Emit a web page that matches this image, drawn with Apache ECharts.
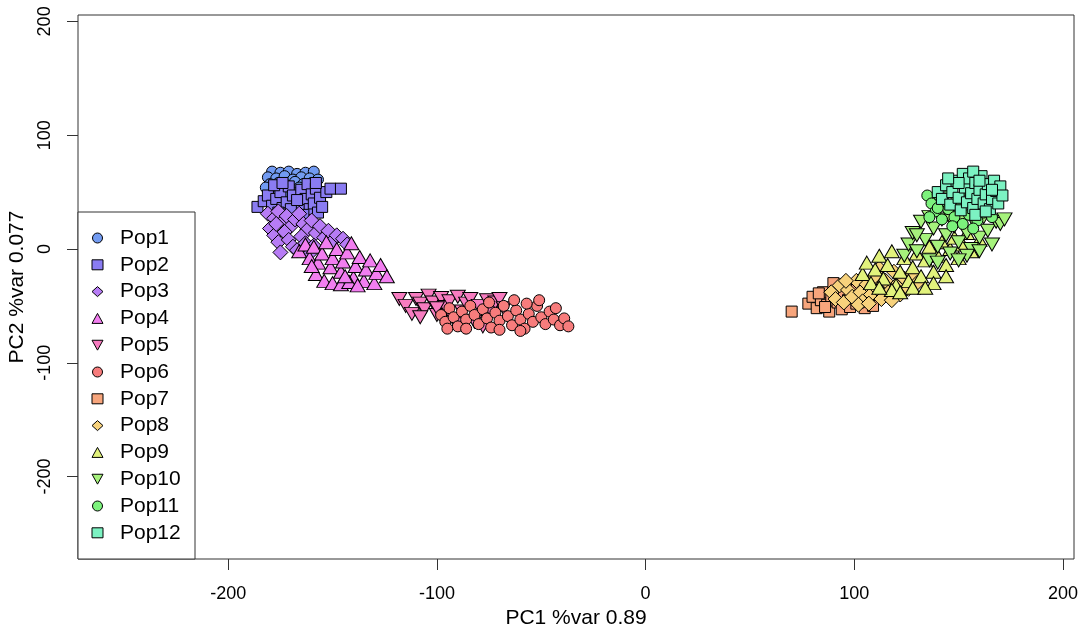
<!DOCTYPE html>
<html>
<head>
<meta charset="utf-8">
<script src="https://cdn.jsdelivr.net/npm/echarts@6/dist/echarts.min.js"></script>
<style>html,body{margin:0;padding:0;background:#fff}#c{width:1081px;height:630px}</style>
</head>
<body>
<div id="c"></div>
<script>
const popNames = ['Pop1','Pop2','Pop3','Pop4','Pop5','Pop6','Pop7','Pop8','Pop9','Pop10','Pop11','Pop12'];
const popColors = ['#729bf2','#8a7cf2','#b77cf5','#f27ef0','#f77cc0','#f77c7c','#f7a57c','#f7d27c','#e2f27c','#a6f27c','#7cf27c','#7cf2c2'];
const xTicks = [-200,-100,0,100,200];
const yTicks = [-200,-100,0,100,200];
const xName = 'PC1 %var 0.89';
const yName = 'PC2 %var 0.077';

const pop1 = [[-179,68],[-175,67],[-171,68],[-167,66],[-163,67],[-159,68],[-181,63],[-177,62],[-173,64],[-169,61],[-165,63],[-161,62],[-157,61],[-180,57],[-176,58],[-172,56],[-168,59],[-164,57],[-160,58],[-178,52],[-174,53],[-170,51],[-166,54],[-162,52],[-158,55],[-176,48],[-172,47],[-168,49],[-165,46],[-182,54]];
const pop2 = [[-186,37],[-183,42],[-181,47],[-179,38],[-177,44],[-175,50],[-174,36],[-172,41],[-171,55],[-169,47],[-168,33],[-166,38],[-165,52],[-163,44],[-162,57],[-161,35],[-160,48],[-159,40],[-158,53],[-157,32],[-156,45],[-155,37],[-153,50],[-151,53],[-146,53],[-178,56],[-174,58],[-170,35],[-167,43],[-164,30],[-176,32],[-158,58]];
const pop3 = [[-181,31],[-178,27],[-176,33],[-174,24],[-172,29],[-170,20],[-168,26],[-166,31],[-164,22],[-162,17],[-160,25],[-158,14],[-156,20],[-154,10],[-152,16],[-150,7],[-148,12],[-145,9],[-143,4],[-180,18],[-178,12],[-176,6],[-175,-3],[-173,15],[-171,8],[-169,2],[-167,-1],[-165,11],[-163,5],[-161,-4],[-159,3],[-177,22]];
const pop4 = [[-166,-2],[-163,4],[-161,-8],[-159,2],[-157,-12],[-155,-4],[-153,6],[-151,-16],[-150,-8],[-148,0],[-146,-20],[-145,-11],[-143,-3],[-141,5],[-140,-25],[-139,-15],[-137,-7],[-135,-28],[-134,-18],[-132,-10],[-130,-30],[-129,-21],[-127,-14],[-124,-24],[-158,-22],[-154,-28],[-150,-30],[-146,-31],[-142,-29],[-138,-32],[-160,-15],[-144,-24]];
const pop5 = [[-118,-44],[-115,-50],[-112,-57],[-110,-44],[-108,-48],[-106,-53],[-104,-41],[-102,-47],[-100,-58],[-98,-43],[-96,-51],[-94,-46],[-92,-62],[-90,-42],[-88,-55],[-86,-48],[-84,-44],[-82,-64],[-80,-50],[-78,-68],[-76,-45],[-74,-55],[-72,-47],[-70,-44],[-68,-52],[-108,-60],[-100,-52],[-90,-66]];
const pop6 = [[-98,-58],[-96,-64],[-94,-52],[-92,-60],[-90,-68],[-88,-55],[-86,-62],[-84,-50],[-82,-58],[-80,-66],[-78,-53],[-76,-61],[-74,-69],[-72,-56],[-70,-63],[-68,-50],[-66,-59],[-64,-67],[-62,-54],[-60,-62],[-58,-70],[-56,-57],[-54,-64],[-52,-50],[-50,-60],[-51,-45],[-48,-66],[-46,-55],[-44,-62],[-43,-52],[-41,-67],[-39,-61],[-37,-68],[-57,-48],[-63,-45],[-75,-47],[-86,-70],[-70,-71],[-60,-72],[-95,-70]];
const pop7 = [[70,-55],[78,-48],[80,-42],[82,-52],[84,-45],[85,-38],[87,-49],[88,-55],[89,-42],[91,-35],[92,-47],[94,-53],[95,-40],[97,-45],[98,-51],[100,-36],[101,-48],[103,-42],[105,-52],[107,-46],[90,-30],[86,-51],[96,-32],[83,-39],[109,-50]];
const pop8 = [[89,-38],[91,-44],[93,-32],[95,-47],[97,-36],[99,-42],[101,-28],[103,-38],[104,-46],[106,-31],[108,-40],[110,-24],[111,-35],[113,-44],[115,-28],[117,-37],[119,-20],[120,-32],[122,-40],[124,-26],[126,-35],[128,-22],[96,-28],[102,-49],[112,-17],[118,-45],[107,-48],[130,-30]];
const pop9 = [[104,-22],[106,-12],[108,-30],[110,-18],[112,-6],[114,-26],[116,-14],[118,-2],[120,-32],[122,-20],[124,-8],[126,-28],[128,-16],[130,-4],[132,-24],[134,-10],[136,2],[138,-20],[140,-6],[142,6],[144,-14],[146,0],[148,10],[150,-8],[152,4],[154,14],[118,-36],[128,-34],[138,-30],[112,-34],[122,-38],[134,-34],[144,-24],[156,-2],[160,8]];
const pop10 = [[124,-6],[126,4],[128,14],[130,-2],[132,24],[134,8],[136,-10],[138,18],[140,2],[142,26],[144,12],[146,-4],[148,20],[150,6],[152,27],[154,14],[156,0],[158,22],[160,10],[162,28],[164,16],[166,4],[168,24],[170,22],[146,28],[136,28],[154,-6],[140,-12],[160,-2],[130,12],[150,-10],[172,26]];
const pop11 = [[135,47],[137,40],[139,33],[140,48],[142,26],[143,42],[145,35],[146,50],[148,28],[149,44],[151,37],[152,22],[153,52],[155,30],[156,45],[158,38],[159,25],[161,50],[162,32],[164,42],[166,28],[140,36],[147,20],[157,18],[136,28]];
const pop12 = [[140,50],[142,44],[144,56],[146,39],[147,50],[149,60],[150,45],[151,34],[152,66],[153,54],[154,41],[155,62],[156,49],[157,36],[158,58],[159,44],[160,52],[161,64],[162,40],[163,48],[164,57],[165,35],[166,44],[167,60],[168,51],[169,40],[170,55],[171,47],[150,58],[145,62],[158,30],[163,33],[157,68],[160,60],[166,52]];

const popData = [pop1,pop2,pop3,pop4,pop5,pop6,pop7,pop8,pop9,pop10,pop11,pop12];

const DOWN_TRI = 'path://M0,0L10,0L5,9Z';
// R pch 21..25 cycle
const shapes = [
  {symbol:'circle', size:11, rot:0, icon:'circle'},
  {symbol:'rect', size:11, rot:0, icon:'rect'},
  {symbol:'diamond', size:[15,15], rot:0, icon:'diamond'},
  {symbol:'triangle', size:[15,13], rot:0, icon:'triangle'},
  {symbol:'triangle', size:[15,13], rot:180, icon:DOWN_TRI},
  {symbol:'circle', size:11, rot:0, icon:'circle'},
  {symbol:'rect', size:11, rot:0, icon:'rect'},
  {symbol:'diamond', size:[15,15], rot:0, icon:'diamond'},
  {symbol:'triangle', size:[15,13], rot:0, icon:'triangle'},
  {symbol:'triangle', size:[15,13], rot:180, icon:DOWN_TRI},
  {symbol:'circle', size:11, rot:0, icon:'circle'},
  {symbol:'rect', size:11, rot:0, icon:'rect'}
];

const FONT = '"Liberation Sans", Arial, sans-serif';

const series = popNames.map((name, i) => ({
  name: name,
  type: 'scatter',
  data: popData[i],
  symbol: shapes[i].symbol,
  symbolSize: shapes[i].size,
  symbolRotate: shapes[i].rot,
  itemStyle: {color: popColors[i], borderColor: '#000', borderWidth: 1, opacity: 1},
  emphasis: {disabled: true},
  animation: false
}));

const chart = echarts.init(document.getElementById('c'), null, {renderer: 'canvas'});
chart.setOption({
  backgroundColor: '#fff',
  animation: false,
  grid: {left: 78, right: 7, top: 15, bottom: 71, show: true, containLabel: false, outerBoundsMode: 'none',
         borderColor: '#333', borderWidth: 1, backgroundColor: 'transparent'},
  xAxis: {
    type: 'value', min: -272, max: 205.3,
    name: xName, nameLocation: 'middle', nameGap: 43,
    nameTextStyle: {fontFamily: FONT, fontSize: 21, color: '#000'},
    axisLine: {show: false, onZero: false},
    splitLine: {show: false},
    axisTick: {show: true, inside: false, length: 11, lineStyle: {color: '#333'}, customValues: xTicks},
    axisLabel: {fontFamily: FONT, fontSize: 18, color: '#000', margin: 26, customValues: xTicks}
  },
  yAxis: {
    type: 'value', min: -272.4, max: 205.6,
    name: yName, nameLocation: 'middle', nameGap: 44,
    nameTextStyle: {fontFamily: FONT, fontSize: 21, color: '#000'},
    axisLine: {show: false, onZero: false},
    splitLine: {show: false},
    axisTick: {show: true, inside: false, length: 11, lineStyle: {color: '#333'}, customValues: yTicks},
    axisLabel: {fontFamily: FONT, fontSize: 18, color: '#000', margin: 24, rotate: 90, customValues: yTicks}
  },
  graphic: [{
    type: 'rect', z: 3,
    shape: {x: 78, y: 212, width: 117, height: 347},
    style: {fill: '#fff', stroke: '#333', lineWidth: 1}
  }],
  legend: {
    orient: 'vertical', left: 91.5, top: 226, padding: 0,
    itemWidth: 11, itemHeight: 10, itemGap: 2.8,
    z: 10,
    selectedMode: false,
    textStyle: {fontFamily: FONT, fontSize: 21, color: '#000', lineHeight: 24, padding: [0,0,0,12]},
    itemStyle: {borderColor: '#000', borderWidth: 1},
    data: popNames.map((n, i) => ({name: n, icon: shapes[i].icon}))
  },
  series: series
});
</script>
</body>
</html>
